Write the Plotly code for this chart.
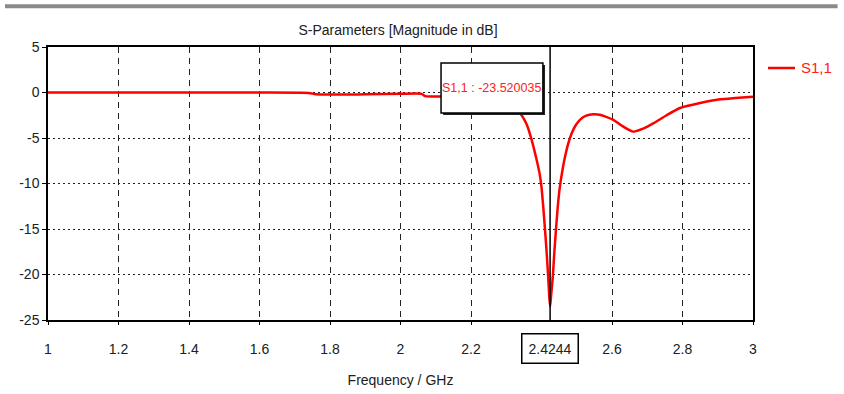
import plotly.graph_objects as go

# ---- data ----
freq_ghz = [1.0, 1.2, 1.4, 1.6, 1.74, 1.76, 1.9, 2.0, 2.06, 2.07, 2.12, 2.2, 2.26, 2.30,
            2.32, 2.339, 2.35, 2.36, 2.372, 2.385, 2.395, 2.40, 2.405, 2.41, 2.415, 2.419,
            2.422, 2.4244, 2.427, 2.432, 2.436, 2.441, 2.446, 2.452, 2.46, 2.467, 2.476,
            2.486, 2.497, 2.509, 2.527, 2.547, 2.565, 2.585, 2.604, 2.63, 2.66, 2.69,
            2.717, 2.755, 2.793, 2.85, 2.906, 2.95, 3.0]
s11_db = [0.0, 0.0, 0.0, 0.0, -0.05, -0.2, -0.2, -0.15, -0.15, -0.4, -0.45, -0.6, -0.9, -1.3,
          -1.8, -2.3, -2.9, -3.7, -5.2, -7.2, -9.0, -10.4, -12.6, -15.1, -17.8, -20.3,
          -22.4, -23.52, -22.4, -20.3, -17.8, -15.1, -12.6, -10.4, -8.4, -7.0, -5.6,
          -4.45, -3.6, -3.0, -2.55, -2.4, -2.45, -2.7, -3.0, -3.7, -4.3, -3.95,
          -3.4, -2.5, -1.7, -1.15, -0.75, -0.6, -0.46]
x_ticks = [1, 1.2, 1.4, 1.6, 1.8, 2, 2.2, 2.6, 2.8, 3]
x_tick_text = ["1", "1.2", "1.4", "1.6", "1.8", "2", "2.2", "2.6", "2.8", "3"]
y_ticks = [5, 0, -5, -10, -15, -20, -25]
y_tick_text = ["5", "0", "-5", "-10", "-15", "-20", "-25"]
marker_freq = 2.4244
marker_value = -23.520035
series_name = "S1,1"

FONT = "Liberation Sans Narrow, Liberation Sans, Arial, sans-serif"
TXT = "#202020"
RED = "#ff0000"

fig = go.Figure()
fig.add_trace(go.Scatter(
    x=freq_ghz, y=s11_db, mode="lines", name=series_name, showlegend=False,
    line=dict(color=RED, width=2.5, shape="spline", smoothing=0.6),
))

# marker line
fig.add_shape(type="line", x0=marker_freq, x1=marker_freq, y0=-25, y1=5,
              xref="x", yref="y", line=dict(color="black", width=1.5), layer="above")

# top gray band
fig.add_shape(type="rect", xref="paper", yref="paper",
              x0=-0.061, x1=1.12, y0=1.142, y1=1.157,
              fillcolor="#8a8a8a", line=dict(width=0))

# legend (drawn outside the plot area, right side)
fig.add_shape(type="line", xref="paper", yref="paper",
              x0=(768 - 48) / 705, x1=(795 - 48) / 705,
              y0=(320 - 68) / 273, y1=(320 - 68) / 273,
              line=dict(color=RED, width=2.5))
fig.add_annotation(x=(799 - 48) / 705, y=(320 - 68) / 273, xref="paper", yref="paper",
                   xanchor="left", yanchor="middle", showarrow=False,
                   text=series_name, font=dict(family=FONT, size=15, color="#ff2020"))

# marker value box (shadow + box) in plot coords
fig.add_shape(type="rect", xref="x", yref="y", x0=2.121, x1=2.410, y0=-2.47, y1=3.02,
              fillcolor="#222", line=dict(width=0), layer="above")
fig.add_shape(type="rect", xref="x", yref="y", x0=2.115, x1=2.404, y0=-2.25, y1=3.24,
              fillcolor="white", line=dict(color="black", width=1.5), layer="above")
fig.add_annotation(x=2.2595, y=0.5, xref="x", yref="y",
                   text=f"{series_name} : {marker_value:.6f}", showarrow=False,
                   font=dict(family=FONT, size=12.5, color="#ff2020"))

# marker frequency box on the axis
fig.add_annotation(x=marker_freq, y=-0.105, xref="x", yref="paper",
                   xanchor="center", yanchor="middle",
                   text=f"{marker_freq}", showarrow=False,
                   font=dict(family=FONT, size=14, color=TXT),
                   bgcolor="white", bordercolor="black", borderwidth=1.5,
                   borderpad=6)

fig.update_layout(
    width=844, height=394,
    margin=dict(l=48, r=91, t=47, b=74),
    paper_bgcolor="white", plot_bgcolor="white",
    font=dict(family=FONT, size=14, color=TXT),
    title=dict(text="S-Parameters [Magnitude in dB]", x=(398 / 844), xanchor="center",
               y=1 - 30 / 394, yanchor="middle",
               font=dict(family=FONT, size=14, color=TXT)),
    showlegend=False,
    xaxis=dict(range=[1, 3], tickvals=x_ticks, ticktext=x_tick_text,
               showgrid=True, gridcolor="#222", gridwidth=1, griddash="6px,5px",
               showline=True, linecolor="black", linewidth=1.5, mirror=True,
               ticks="outside", ticklen=3, tickcolor="black",
               ticklabelstandoff=12, automargin=False,
               zeroline=False,
               title=dict(text="Frequency / GHz", standoff=20,
                          font=dict(family=FONT, size=14, color=TXT))),
    yaxis=dict(range=[-25, 5], tickvals=y_ticks, ticktext=y_tick_text,
               showgrid=True, gridcolor="#222", gridwidth=1, griddash="2px,3px",
               showline=True, linecolor="black", linewidth=1.5, mirror=True,
               ticks="outside", ticklen=4, tickcolor="black", automargin=False,
               zeroline=False),
)

fig.write_html("out.html", config={"displayModeBar": False},
               post_script="document.body.style.margin='0px';")
